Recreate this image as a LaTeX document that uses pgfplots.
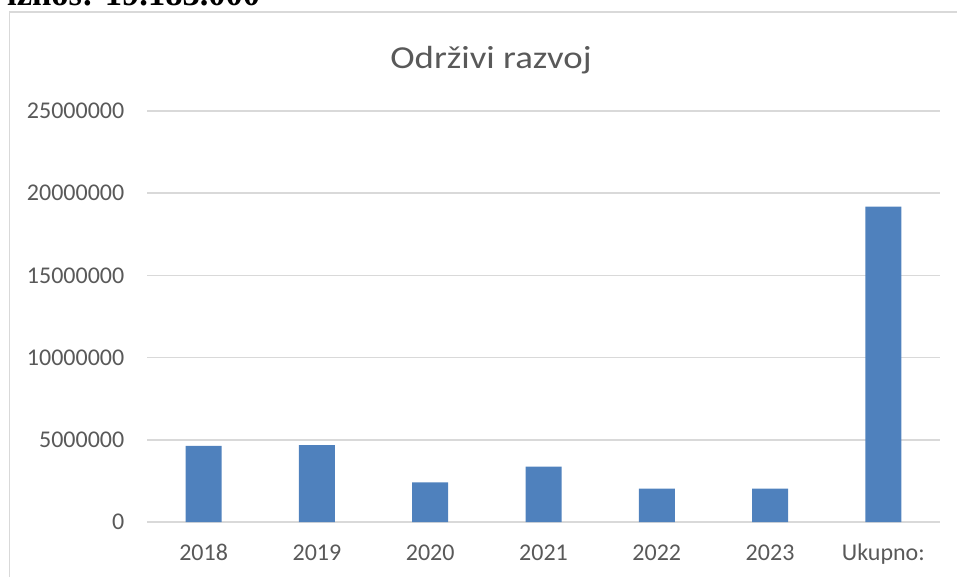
\documentclass[border=0pt]{standalone}
\usepackage{fontspec}
\setmainfont{Carlito}
\newfontfamily\titlefont{Carlito}[FakeStretch=1.15]
\newfontfamily\docfont{Liberation Serif}
\usepackage{pgfplots}
\pgfplotsset{compat=1.18}
\definecolor{barblue}{HTML}{4F81BD}
\definecolor{txtgray}{HTML}{595959}
\definecolor{gridgray}{HTML}{D9D9D9}

\begin{document}
\begin{tikzpicture}[x=1pt,y=1pt]
\useasboundingbox (0,0) rectangle (957,576);
\clip (0,0) rectangle (957,576);
% chart frame, cut by the page edge
\draw[gridgray, line width=1.5pt] (9.5,-5) -- (9.5,564) -- (1000,564);
% text line of the document above the chart, mostly cut off
\node[anchor=base west, inner sep=0pt, font=\docfont\bfseries\fontsize{34.5}{40}\selectfont] at (7,570) {iznos: 19.183.000};
\node[anchor=base, inner sep=0pt, text=txtgray, font=\titlefont\fontsize{32}{38}\selectfont] at (491,507) {Održivi razvoj};
\begin{axis}[
    at={(147pt,54pt)}, anchor=south west,
    scale only axis,
    width=793pt, height=411pt,
    ybar,
    bar width=36pt,
    ymin=0, ymax=25000000,
    xmin=-0.5, xmax=6.5,
    scaled y ticks=false,
    ytick={0,5000000,10000000,15000000,20000000,25000000},
    yticklabels={0,5000000,10000000,15000000,20000000,25000000},
    xtick={0,1,2,3,4,5,6},
    xticklabels={2018,2019,2020,2021,2022,2023,Ukupno:},
    axis line style={draw=none},
    major tick length=0pt,
    ymajorgrids=true,
    grid style={gridgray, line width=1.5pt},
    yticklabel style={font=\fontsize{24}{28}\selectfont, text=txtgray, anchor=east, inner sep=0pt, xshift=-22.5pt},
    xticklabel style={font=\fontsize{24}{28}\selectfont, text=txtgray, anchor=base, inner sep=0pt, yshift=-38.7pt},
]
\addplot[fill=barblue, draw=none] coordinates {
    (0,4630000)
    (1,4680000)
    (2,2410000)
    (3,3370000)
    (4,2030000)
    (5,2030000)
    (6,19183000)
};
\end{axis}
\end{tikzpicture}
\end{document}
